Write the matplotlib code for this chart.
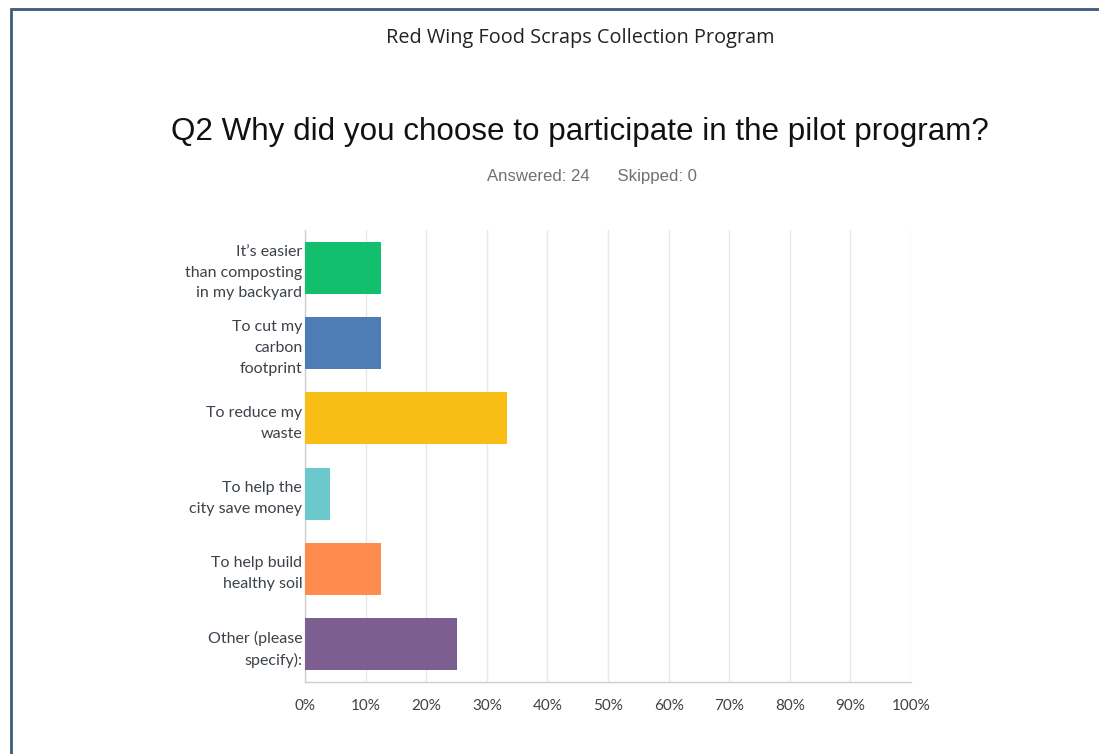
import matplotlib
matplotlib.use("Agg")
import matplotlib.pyplot as plt
from matplotlib.patches import Rectangle

# Survey response data
categories = [
    "It\u2019s easier\nthan composting\nin my backyard",
    "To cut my\ncarbon\nfootprint",
    "To reduce my\nwaste",
    "To help the\ncity save money",
    "To help build\nhealthy soil",
    "Other (please\nspecify):",
]
percent = [12.50, 12.50, 33.33, 4.17, 12.50, 25.00]
bar_colors = ["#12bf6c", "#507cb6", "#f9be16", "#6bc8cd", "#ff8c4e", "#7d5e90"]
x_ticks = list(range(0, 101, 10))
x_tick_labels = [f"{v}%" for v in x_ticks]

W, H = 1099, 754
fig = plt.figure(figsize=(W / 100, H / 100), dpi=100)
fig.patch.set_facecolor("white")

# Page frame
fig.add_artist(Rectangle((10.5 / W, -0.05), 1.2, 1 - 8.5 / H + 0.05,
                         transform=fig.transFigure, fill=False,
                         edgecolor="#3e5b7a", linewidth=2.0))

ax = fig.add_axes([305 / W, 1 - 682 / H, (911 - 305) / W, (682 - 230) / H])

y = list(range(len(categories)))
ax.barh(y, percent, height=0.69, color=bar_colors, zorder=3)
ax.set_ylim(len(categories) - 0.5, -0.5)
ax.set_xlim(0, 100)

ax.set_xticks(x_ticks)
ax.set_xticklabels(x_tick_labels, fontsize=11, color="#3b4249", family="Lato")
ax.set_yticks(y)
ax.set_yticklabels(categories, fontsize=11.5, color="#3b4249", family="Lato",
                   linespacing=1.62)
ax.tick_params(axis="both", length=0)
ax.tick_params(axis="x", pad=12)
ax.tick_params(axis="y", pad=2)

ax.grid(axis="x", color="#e8e8e8", linewidth=1.0, zorder=0)
for side in ("top", "right"):
    ax.spines[side].set_visible(False)
for side in ("left", "bottom"):
    ax.spines[side].set_color("#cfcfcf")
    ax.spines[side].set_linewidth(1.0)

fig.text(580 / W, 1 - 38 / H, "Red Wing Food Scraps Collection Program",
         ha="center", va="center", fontsize=14.3, color="#222222", family="Open Sans")
fig.text(580 / W, 1 - 132 / H, "Q2 Why did you choose to participate in the pilot program?",
         ha="center", va="center", fontsize=22.6, color="#111111", family="Liberation Sans")
fig.text(592 / W, 1 - 177 / H, "Answered: 24      Skipped: 0",
         ha="center", va="center", fontsize=12.1, color="#6b7177", family="Liberation Sans")

fig.savefig("out.png", dpi=100)
